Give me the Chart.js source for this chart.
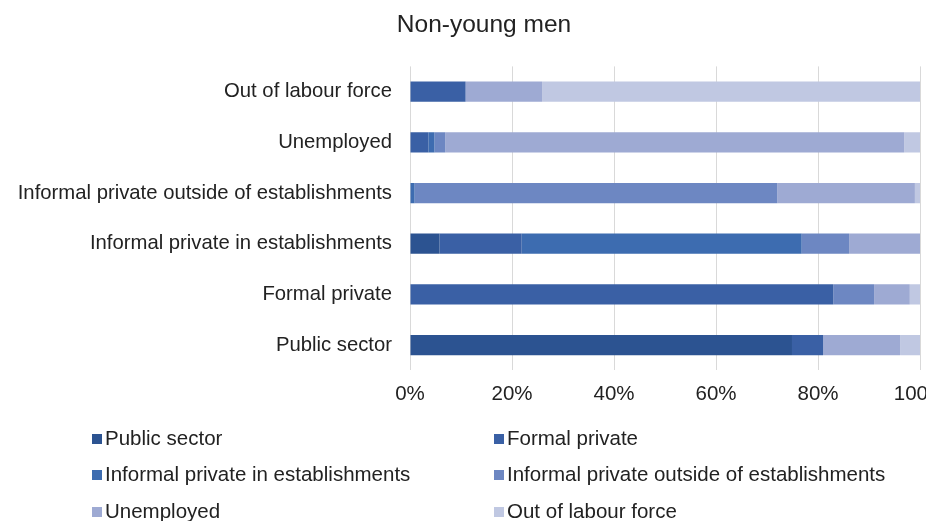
<!DOCTYPE html>
<html>
<head>
<meta charset="utf-8">
<script src="https://cdn.jsdelivr.net/npm/chart.js@4"></script>
<style>
  html, body { margin: 0; padding: 0; background: #fff; overflow: hidden; width: 926px; height: 521px; }
  #wrap { position: relative; width: 980px; height: 521px; }
  #legend { position: absolute; left: 0; top: 0; font-family: "Liberation Sans", Arial, sans-serif; font-size: 20.5px; color: #222; }
  .item { position: absolute; white-space: nowrap; line-height: 24px; transform: translateY(-50%); }
  .box { display: inline-block; width: 10px; height: 10px; margin-right: 3px; vertical-align: 1px; }
</style>
</head>
<body>
<div id="wrap">
  <canvas id="chart"></canvas>
  <div id="legend"></div>
</div>
<script>
// Categories, top to bottom as drawn
const categories = [
  "Out of labour force",
  "Unemployed",
  "Informal private outside of establishments",
  "Informal private in establishments",
  "Formal private",
  "Public sector"
];

// Shares (%) for each category
const publicSector   = [0,    0,    0,    5.8,  0,    74.9];
const formalPrivate  = [10.9, 3.6,  0,    16.1, 83.0, 6.1];
const informalIn     = [0,    1.2,  0.9,  54.9, 0,    0];
const informalOut    = [0,    2.1,  71.1, 9.3,  8.0,  0];
const unemployed     = [15.0, 90.0, 27.0, 13.9, 7.0,  15.1];
const outOfLabour    = [74.1, 3.1,  1.0,  0,    2.0,  3.9];

const xTicks = [0, 20, 40, 60, 80, 100];

const seriesNames = ["Public sector", "Formal private", "Informal private in establishments",
  "Informal private outside of establishments", "Unemployed", "Out of labour force"];
const seriesData = [publicSector, formalPrivate, informalIn, informalOut, unemployed, outOfLabour];
const seriesColors = ["#2c5391", "#3a60a5", "#3d6cb0", "#6d87c2", "#9eaad3", "#c0c8e2"];

const font = "'Liberation Sans', Arial, sans-serif";

// the title sits over the middle of the (partly cut off) original chart, not the canvas
const titleShift = {
  id: "titleShift",
  afterLayout(chart) {
    const t = chart.titleBlock;
    t.left = 2 * 484 - t.right;
  }
};

const chart = new Chart(document.getElementById("chart"), {
  type: "bar",
  data: {
    labels: categories,
    datasets: seriesNames.map((name, i) => ({
      label: name,
      data: seriesData[i],
      backgroundColor: seriesColors[i],
      borderWidth: 0,
      barPercentage: 0.4,
      categoryPercentage: 1
    }))
  },
  plugins: [titleShift],
  options: {
    indexAxis: "y",
    responsive: true,
    maintainAspectRatio: false,
    animation: false,
    layout: { padding: { left: 0, right: 60, top: 0, bottom: 102 } },
    plugins: {
      legend: { display: false },
      tooltip: { enabled: false },
      title: {
        display: true,
        text: "Non-young men",
        color: "#222",
        font: { family: font, size: 24.5, weight: "normal" },
        padding: { top: 11, bottom: 26 }
      }
    },
    scales: {
      x: {
        stacked: true,
        min: 0,
        max: 100,
        afterBuildTicks: (scale) => { scale.ticks = xTicks.map(v => ({ value: v })); },
        ticks: {
          color: "#222",
          padding: 12,
          font: { family: font, size: 20.5 },
          callback: (v) => v + "%"
        },
        grid: { color: "#d9d9d9", lineWidth: 1, drawTicks: false },
        border: { display: false }
      },
      y: {
        stacked: true,
        afterFit: (scale) => { scale.width = 410; },
        ticks: {
          color: "#222",
          padding: 10,
          font: { family: font, size: 20.3 }
        },
        grid: { display: false },
        border: { display: false }
      }
    }
  }
});

// Two-column legend built from the chart datasets
const legendPos = [[92, 438], [494, 438], [92, 474], [494, 474], [92, 511], [494, 511]];
const legendEl = document.getElementById("legend");
chart.data.datasets.forEach((ds, i) => {
  const item = document.createElement("div");
  item.className = "item";
  item.style.left = legendPos[i][0] + "px";
  item.style.top = legendPos[i][1] + "px";
  item.innerHTML = '<span class="box" style="background:' + ds.backgroundColor + '"></span>' + ds.label;
  legendEl.appendChild(item);
});
</script>
</body>
</html>
